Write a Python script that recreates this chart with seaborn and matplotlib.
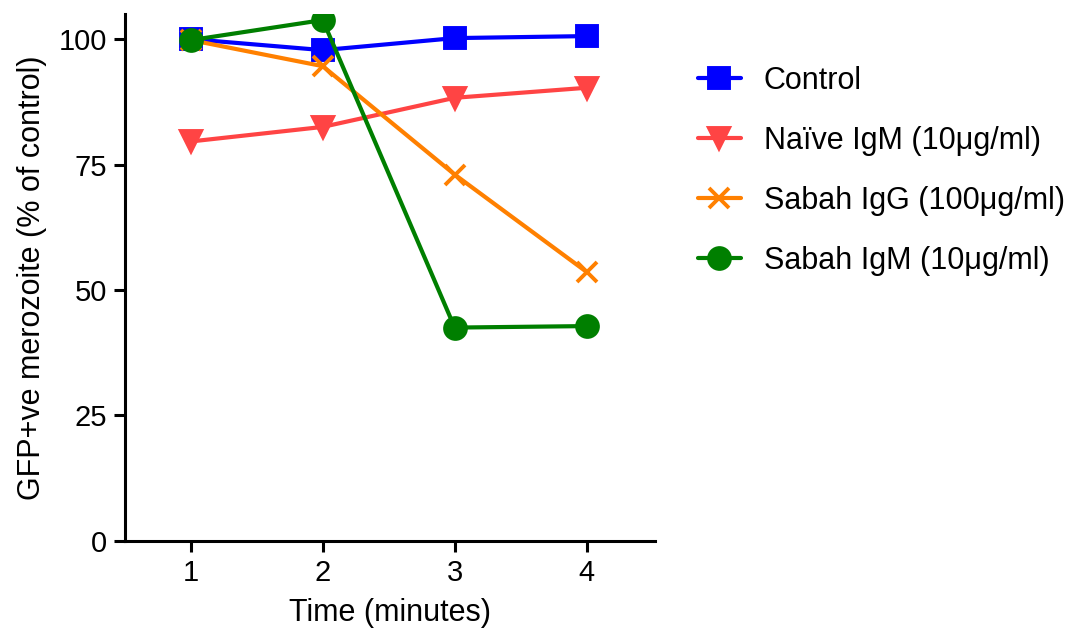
import numpy as np
import pandas as pd
import matplotlib
matplotlib.use("Agg")
import matplotlib.pyplot as plt
import seaborn as sns

time = [1, 2, 3, 4]
control = [100.0, 97.8, 100.2, 100.6]
naive_igm = [79.6, 82.5, 88.3, 90.3]
sabah_igg = [99.8, 94.6, 73.0, 53.6]
sabah_igm = [99.8, 103.8, 42.5, 42.8]

groups = ["Control", "Naïve IgM (10μg/ml)", "Sabah IgG (100μg/ml)", "Sabah IgM (10μg/ml)"]
series = [control, naive_igm, sabah_igg, sabah_igm]
colors = ["#0000FF", "#FF4444", "#FF8000", "#007F00"]
marks = ["s", "v", "x", "o"]

df = pd.DataFrame({
    "Time": time * 4,
    "Value": np.concatenate(series),
    "Group": np.repeat(groups, len(time)),
})

sns.set_style("ticks", {"axes.edgecolor": "black", "text.color": "black",
                        "axes.labelcolor": "black", "xtick.color": "black",
                        "ytick.color": "black"})
plt.rcParams["font.family"] = ["Liberation Sans", "DejaVu Sans"]

fig = plt.figure(figsize=(10.82, 6.37), dpi=100)
ax = fig.add_axes([0.1155, 0.151, 0.49, 0.827])

# one call per group, seaborn won't mix filled and line-art markers
for g, c, m in zip(groups, colors, marks):
    sub = df[df["Group"] == g]
    sns.lineplot(data=sub, x="Time", y="Value", color=c, marker=m, label=g,
                 linewidth=3.0, markersize=15, markeredgewidth=2.8,
                 markeredgecolor=c, ax=ax)

ax.set_xlim(0.5, 4.52)
ax.set_ylim(0, 105)
ax.set_xticks(time)
ax.set_yticks([0, 25, 50, 75, 100])
ax.set_xlabel("Time (minutes)", fontsize=22, labelpad=8)
ax.set_ylabel("GFP+ve merozoite (% of control)", fontsize=22, labelpad=8)
ax.tick_params(labelsize=21, width=2.2, length=8, direction="out", pad=5)
for s in ["left", "bottom"]:
    ax.spines[s].set_linewidth(2.2)
sns.despine(ax=ax)

ax.legend(loc="upper left", bbox_to_anchor=(1.029, 0.954), frameon=False,
          fontsize=22, handlelength=1.4, labelspacing=0.98, handletextpad=0.75)

fig.savefig("out.png", dpi=100)
